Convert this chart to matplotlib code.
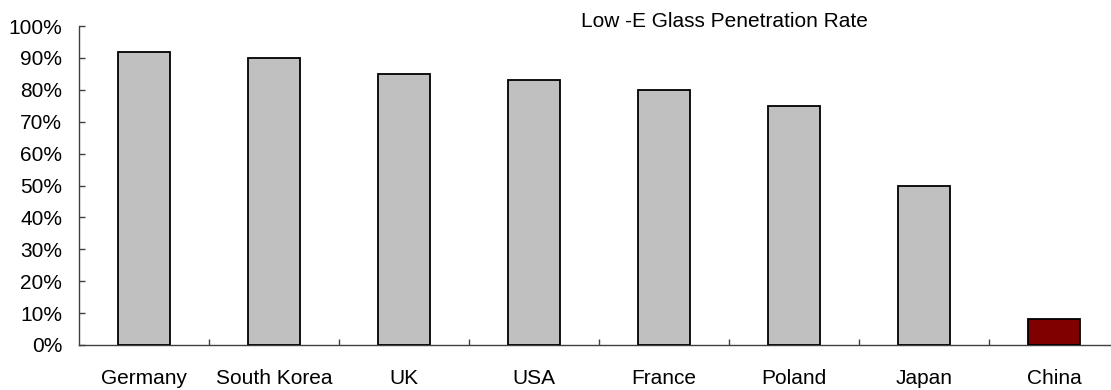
import numpy as np
import matplotlib.pyplot as plt
from matplotlib.ticker import FixedLocator, PercentFormatter

plt.rcParams['font.family'] = ['Liberation Sans', 'DejaVu Sans']

# Penetration rate of Low-E glass by country (%)
countries = ['Germany', 'South Korea', 'UK', 'USA', 'France', 'Poland', 'Japan', 'China']
rates = [92, 90, 85, 83, 80, 75, 50, 8]
bar_colors = ['#C0C0C0'] * 7 + ['#800000']

W, H = 1111, 390
fig = plt.figure(figsize=(W / 100, H / 100), dpi=100)

# axes box in pixels: y axis at x=79, 0% at y=345, 100% at y=26, 130 px per category
x0, y0, y1, step = 79, 345, 26, 130
ax = fig.add_axes([x0 / W, 1 - y0 / H, 1 - x0 / W, (y0 - y1) / H])

x = np.arange(len(countries))
ax.bar(x, rates, width=0.4, color=bar_colors, edgecolor='black', linewidth=1.3, zorder=3)

ax.set_xlim(-0.5, -0.5 + (W - x0) / step)
ax.set_ylim(0, 100)
ax.yaxis.set_major_locator(FixedLocator(np.arange(0, 101, 10)))
ax.yaxis.set_major_formatter(PercentFormatter(decimals=0))

ax.set_xticks(x)
ax.set_xticklabels(countries)
ax.xaxis.set_minor_locator(FixedLocator(x[:-1] + 0.5))

for side in ['top', 'right']:
    ax.spines[side].set_visible(False)
for side in ['left', 'bottom']:
    ax.spines[side].set_color('#404040')
    ax.spines[side].set_linewidth(1.0)

ax.tick_params(axis='y', direction='in', length=4.5, width=1.0, color='#404040',
               labelsize=15, pad=12)
ax.tick_params(axis='x', which='major', length=0, labelsize=15, pad=17)
ax.tick_params(axis='x', which='minor', direction='in', length=4, width=1.0, color='#404040')

fig.text(724 / W, 1 - 27 / H, 'Low -E Glass Penetration Rate', ha='center', va='baseline',
         fontsize=15)

fig.savefig('out.png', dpi=100)
